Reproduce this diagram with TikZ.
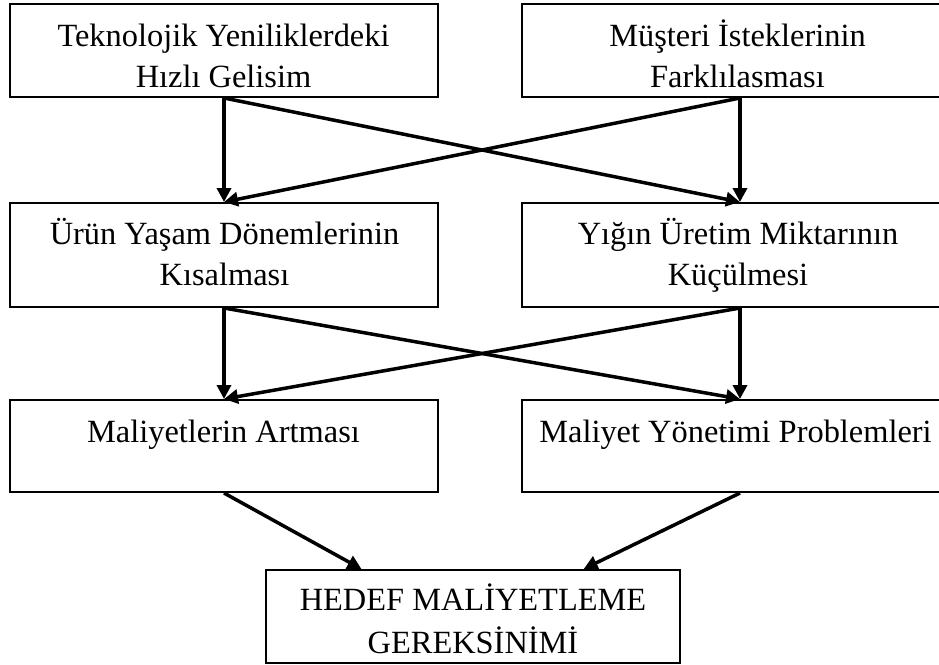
\documentclass[tikz,border=0pt]{standalone}
\usepackage{fontspec}
\setmainfont{Liberation Serif}
\usetikzlibrary{arrows.meta,calc}
\begin{document}
\begin{tikzpicture}[x=1pt,y=-1pt,
  box/.style={draw=black, line width=2pt, rectangle, inner sep=0pt},
  lbl/.style={anchor=base, inner sep=0pt, font=\fontsize{32.4}{41}\selectfont},
  flow/.style={line width=3.5pt, -{Triangle[length=14pt,width=14pt]}}]
\useasboundingbox (0,0) rectangle (939,664);

% boxes (the right column runs off the page edge)
\begin{scope}
\clip (0,0) rectangle (939,664);
\node[box, minimum width=428pt, minimum height=93pt]  (b1) at (224,50.5) {};
\node[box, minimum width=436pt, minimum height=93pt]  (b2) at (740,50.5) {};
\node[box, minimum width=428pt, minimum height=104pt] (b3) at (224,255) {};
\node[box, minimum width=436pt, minimum height=104pt] (b4) at (740,255) {};
\node[box, minimum width=428pt, minimum height=92pt]  (b5) at (224,446) {};
\node[box, minimum width=436pt, minimum height=92pt]  (b6) at (740,446) {};
\node[box, minimum width=414pt, minimum height=93pt]  (b7) at (473,616.5) {};
\end{scope}

% texts
\node[lbl] (t1a) at (223.5,46) {Teknolojik Yeniliklerdeki};
\node[lbl] (t1b) at (223.5,87) {Hızlı Gelisim};
\node[lbl] (t2a) at (737.5,46) {Müşteri İsteklerinin};
\node[lbl] (t2b) at (737.5,87) {Farklılasması};
\node[lbl] (t3a) at (224.5,244) {Ürün Yaşam Dönemlerinin};
\node[lbl] (t3b) at (224.5,285) {Kısalması};
\node[lbl] (t4a) at (738,244) {Yığın Üretim Miktarının};
\node[lbl] (t4b) at (738,285) {Küçülmesi};
\node[lbl] (t5) at (223.5,442) {Maliyetlerin Artması};
\node[lbl] (t6) at (735.5,442) {Maliyet Yönetimi Problemleri};
\node[lbl] (t7a) at (473,610) {HEDEF MALİYETLEME};
\node[lbl] (t7b) at (473,653) {GEREKSİNİMİ};

% connectors
\draw[flow] (b1.south) -- (b3.north);
\draw[flow] (b2.south) -- (b4.north);
\draw[flow] (b1.south) -- (b4.north);
\draw[flow] (b2.south) -- (b3.north);
\draw[flow] (b3.south) -- (b5.north);
\draw[flow] (b4.south) -- (b6.north);
\draw[flow] (b3.south) -- (b6.north);
\draw[flow] (b4.south) -- (b5.north);
\draw[flow] (b5.south) -- ($(b7.north west)!0.232!(b7.north east)$);
\draw[flow] (b6.south) -- ($(b7.north west)!0.766!(b7.north east)$);
\end{tikzpicture}
\end{document}
